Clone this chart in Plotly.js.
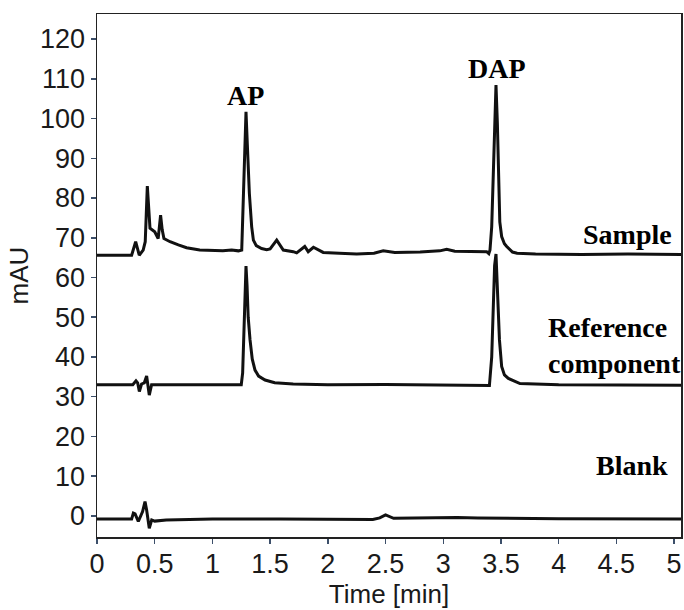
<!DOCTYPE html>
<html>
<head>
<meta charset="utf-8">
<script src="https://cdn.plot.ly/plotly-3.0.1.min.js"></script>
<style>html,body{margin:0;padding:0;background:#fff;}#chart{width:684px;height:610px;}</style>
</head>
<body>
<div id="chart"></div>
<script>
// Sample chromatogram
var sampleTime = [0, 0.30, 0.335, 0.366, 0.40, 0.418, 0.436, 0.448, 0.459, 0.50, 0.53, 0.551, 0.565, 0.58, 0.633, 0.705, 0.776, 0.89, 1.09, 1.167, 1.225, 1.254, 1.268, 1.279, 1.291, 1.302, 1.32, 1.34, 1.355, 1.38, 1.426, 1.47, 1.50, 1.557, 1.59, 1.614, 1.70, 1.73, 1.80, 1.83, 1.875, 1.96, 2.10, 2.25, 2.40, 2.48, 2.58, 2.80, 2.97, 3.03, 3.10, 3.20, 3.376, 3.395, 3.405, 3.42, 3.434, 3.445, 3.457, 3.469, 3.477, 3.49, 3.506, 3.53, 3.55, 3.60, 3.64, 3.80, 4.20, 4.60, 5.06];
var sampleMAU = [65.6, 65.6, 69.0, 65.6, 66.9, 69.0, 83.0, 76.0, 72.4, 71.5, 69.8, 75.7, 72.0, 69.8, 69.0, 68.2, 67.5, 66.9, 66.7, 66.9, 66.7, 66.9, 81.2, 93.8, 101.7, 93.8, 81.2, 72.8, 69.4, 68.0, 67.3, 67.0, 67.2, 69.4, 67.8, 66.9, 66.5, 66.2, 67.8, 66.5, 67.6, 66.3, 66.1, 65.9, 66.1, 66.7, 66.3, 66.4, 66.7, 67.1, 66.6, 66.5, 66.5, 66.0, 66.9, 72.8, 86.0, 98.8, 108.4, 98.8, 86.0, 74.0, 70.3, 68.5, 67.8, 66.4, 66.1, 65.9, 65.8, 65.9, 65.8];

// Reference component chromatogram
var refTime = [0, 0.31, 0.338, 0.352, 0.367, 0.386, 0.41, 0.43, 0.453, 0.473, 0.50, 1.00, 1.25, 1.262, 1.275, 1.284, 1.291, 1.30, 1.31, 1.326, 1.345, 1.369, 1.40, 1.456, 1.54, 1.70, 2.00, 2.50, 3.00, 3.40, 3.42, 3.434, 3.445, 3.457, 3.47, 3.487, 3.506, 3.53, 3.564, 3.665, 4.00, 5.06];
var refMAU = [33.0, 33.0, 34.0, 33.5, 31.3, 33.2, 33.5, 35.2, 30.4, 33.0, 33.0, 33.1, 33.0, 36.0, 50.0, 60.0, 62.9, 58.0, 50.0, 44.3, 39.5, 36.7, 35.2, 34.2, 33.5, 33.2, 33.0, 33.1, 33.0, 32.8, 40.0, 55.0, 63.0, 65.9, 58.0, 44.3, 37.6, 35.5, 34.6, 33.3, 33.0, 32.9];

// Blank chromatogram
var blankTime = [0, 0.30, 0.315, 0.33, 0.358, 0.395, 0.416, 0.43, 0.453, 0.474, 0.50, 0.60, 0.80, 1.00, 1.59, 2.02, 2.39, 2.45, 2.50, 2.57, 2.80, 3.12, 3.30, 3.60, 4.00, 5.06];
var blankMAU = [-0.8, -0.8, 0.7, 0.5, -1.4, 1.1, 3.6, 1.5, -3.1, -1.0, -1.3, -1.0, -0.9, -0.8, -0.8, -0.95, -0.9, -0.5, 0.25, -0.6, -0.5, -0.4, -0.5, -0.6, -0.7, -0.8];

var xTickVals = [0, 0.5, 1, 1.5, 2, 2.5, 3, 3.5, 4, 4.5, 5];
var xTickText = ['0', '0.5', '1', '1.5', '2', '2.5', '3', '3.5', '4', '4.5', '5'];
var yTickVals = [0, 10, 20, 30, 40, 50, 60, 70, 80, 90, 100, 110, 120];

var lineStyle = {color: '#111', width: 3};
var traces = [
  {x: sampleTime, y: sampleMAU, mode: 'lines', line: lineStyle, name: 'Sample', hoverinfo: 'x+y'},
  {x: refTime, y: refMAU, mode: 'lines', line: lineStyle, name: 'Reference component', hoverinfo: 'x+y'},
  {x: blankTime, y: blankMAU, mode: 'lines', line: lineStyle, name: 'Blank', hoverinfo: 'x+y'}
];

var labelFont = {family: '"Liberation Serif", "Times New Roman", serif', size: 28, color: '#000', weight: 'bold'};
var tickFont = {family: '"Liberation Sans", Arial, Helvetica, sans-serif', size: 27, color: '#1a1a1a'};

var layout = {
  width: 684, height: 610,
  margin: {l: 97, r: 3, t: 14, b: 73, pad: 0},
  paper_bgcolor: '#fff', plot_bgcolor: '#fff',
  showlegend: false,
  xaxis: {
    range: [0, 5.06], tickvals: xTickVals, ticktext: xTickText,
    ticks: 'outside', ticklen: 5, tickwidth: 1.5, tickcolor: '#3c4f6a',
    ticklabelstandoff: -3,
    showline: true, linecolor: '#222', linewidth: 1.5, mirror: true,
    showgrid: false, zeroline: false, tickfont: tickFont,
    title: {text: 'Time [min]', font: {family: tickFont.family, size: 26, color: '#1a1a1a'}, standoff: 0}
  },
  yaxis: {
    range: [-5.3, 126.3], tickvals: yTickVals,
    ticks: 'outside', ticklen: 5, tickwidth: 1.5, tickcolor: '#3c4f6a',
    showline: true, linecolor: '#222', linewidth: 1.5, mirror: true,
    showgrid: false, zeroline: false, tickfont: tickFont,
    title: {text: 'mAU', font: {family: tickFont.family, size: 26, color: '#1a1a1a'}, standoff: 4}
  },
  annotations: [
    {text: 'AP', x: 1.29, y: 105.9, xref: 'x', yref: 'y', showarrow: false, font: labelFont},
    {text: 'DAP', x: 3.465, y: 112.7, xref: 'x', yref: 'y', showarrow: false, font: labelFont},
    {text: 'Sample', x: 5.0, y: 70.7, xref: 'x', yref: 'y', xanchor: 'right', showarrow: false, font: labelFont},
    {text: 'Reference<br>component', x: 3.89, y: 43.0, xref: 'x', yref: 'y', xanchor: 'left', align: 'left', showarrow: false, font: labelFont},
    {text: 'Blank', x: 4.965, y: 12.8, xref: 'x', yref: 'y', xanchor: 'right', showarrow: false, font: labelFont}
  ]
};

Plotly.newPlot('chart', traces, layout, {displayModeBar: false, staticPlot: true});
</script>
</body>
</html>
